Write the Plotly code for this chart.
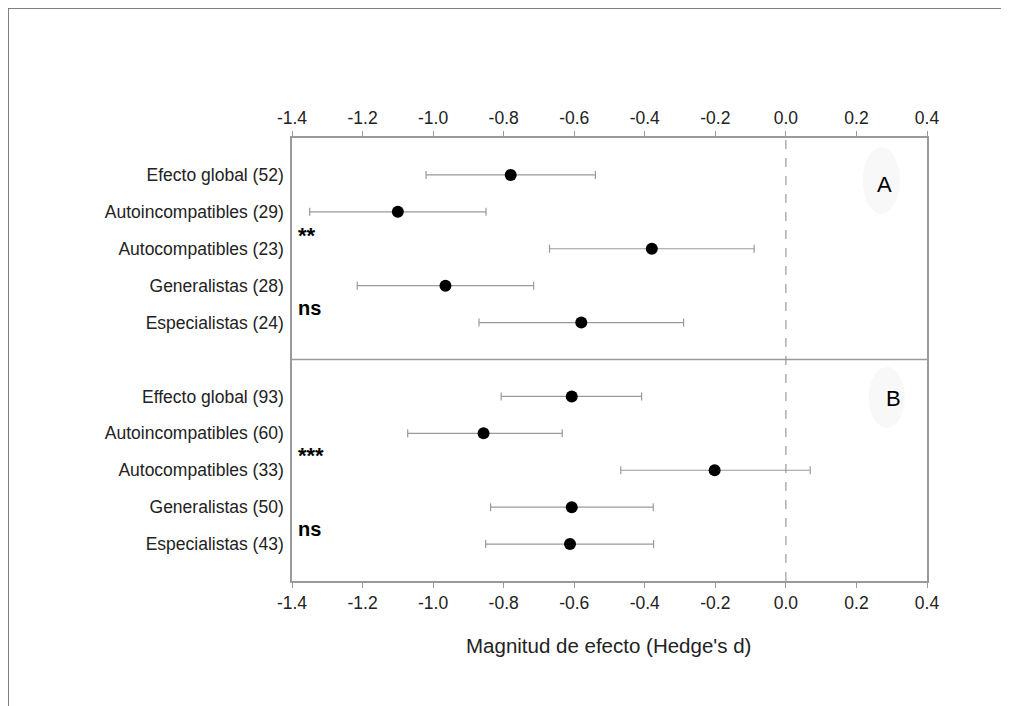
import plotly.graph_objects as go

# ---- data ----
labels_A = ["Efecto global (52)", "Autoincompatibles (29)", "Autocompatibles (23)",
            "Generalistas (28)", "Especialistas (24)"]
mean_A = [-0.78, -1.10, -0.38, -0.965, -0.58]
lo_A = [-1.02, -1.35, -0.67, -1.215, -0.87]
hi_A = [-0.54, -0.85, -0.09, -0.715, -0.29]

labels_B = ["Effecto global (93)", "Autoincompatibles (60)", "Autocompatibles (33)",
            "Generalistas (50)", "Especialistas (43)"]
mean_B = [-0.607, -0.857, -0.202, -0.607, -0.612]
lo_B = [-0.807, -1.072, -0.468, -0.837, -0.851]
hi_B = [-0.409, -0.634, 0.069, -0.376, -0.375]

pos_A = [1, 2, 3, 4, 5]
pos_B = [7, 8, 9, 10, 11]

xticks = [-1.4, -1.2, -1.0, -0.8, -0.6, -0.4, -0.2, 0.0, 0.2, 0.4]
xticktext = ["-1.4", "-1.2", "-1.0", "-0.8", "-0.6", "-0.4", "-0.2", "0.0", "0.2", "0.4"]

sig_text = ["**", "ns", "***", "ns"]
sig_pos = [2.65, 4.6, 8.6, 10.6]

FONT = "Liberation Sans, Arial, sans-serif"
GREY = "#9a9a9a"

fig = go.Figure()

for pos, m, lo, hi in [(pos_A, mean_A, lo_A, hi_A), (pos_B, mean_B, lo_B, hi_B)]:
    fig.add_trace(go.Scatter(
        x=m, y=pos, mode="markers",
        marker=dict(color="black", size=12),
        error_x=dict(type="data", symmetric=False,
                     array=[h - v for h, v in zip(hi, m)],
                     arrayminus=[v - l for v, l in zip(m, lo)],
                     color=GREY, thickness=1.2, width=4),
        showlegend=False, hoverinfo="x+y",
    ))

# invisible trace for top axis
fig.add_trace(go.Scatter(x=[-1.4, 0.4], y=[0, 0], xaxis="x2", mode="markers",
                         marker=dict(opacity=0), showlegend=False, hoverinfo="skip"))

axis_common = dict(range=[-1.4, 0.4], tickvals=xticks, ticktext=xticktext,
                   ticks="outside", ticklen=5, tickcolor=GREY, showline=True,
                   linecolor=GREY, linewidth=1.5, showgrid=False, zeroline=False,
                   tickfont=dict(family=FONT, size=17.5, color="#222"))

fig.update_layout(
    width=1009, height=706,
    margin=dict(l=284, r=90, t=130, b=133),
    paper_bgcolor="white", plot_bgcolor="white",
    xaxis=dict(**axis_common, side="bottom", mirror=True),
    xaxis2=dict(**axis_common, side="top", overlaying="x", matches="x"),
    yaxis=dict(range=[12, 0], tickvals=pos_A + pos_B, ticktext=labels_A + labels_B,
               ticks="", showline=True, mirror=True, linecolor=GREY, linewidth=1.5,
               showgrid=False, zeroline=False, ticklabelstandoff=3,
               tickfont=dict(family=FONT, size=17.5, color="#222")),
    font=dict(family=FONT),
)

shapes = [
    # zero reference
    dict(type="line", xref="x", yref="paper", x0=0, x1=0, y0=0, y1=1,
         line=dict(color=GREY, width=1.2, dash="dash"), layer="below"),
    # panel divider
    dict(type="line", xref="paper", yref="y", x0=0, x1=1, y0=6, y1=6,
         line=dict(color=GREY, width=1.5)),
    # faint ellipses behind panel letters
    dict(type="circle", xref="x", yref="y", x0=0.218, x1=0.323, y0=0.25, y1=2.05,
         fillcolor="#f8f8f8", line=dict(width=0), layer="below"),
    dict(type="circle", xref="x", yref="y", x0=0.235, x1=0.337, y0=6.2, y1=7.85,
         fillcolor="#f8f8f8", line=dict(width=0), layer="below"),
    # outer frame (top and left)
    dict(type="line", xref="paper", yref="paper", x0=-0.447, x1=1.2, y0=1.293, y1=1.293,
         line=dict(color="#555", width=1.2)),
    dict(type="line", xref="paper", yref="paper", x0=-0.447, x1=-0.447, y0=1.293, y1=-0.31,
         line=dict(color="#555", width=1.2)),
]
fig.update_layout(shapes=shapes)

annotations = []
for t, p in zip(sig_text, sig_pos):
    annotations.append(dict(x=-1.4, y=p, xref="x", yref="y", text=f"<b>{t}</b>",
                            showarrow=False, xanchor="left", yanchor="middle", xshift=4,
                            font=dict(family=FONT, size=20 if t == "ns" else 22, color="black")))
annotations.append(dict(x=0.28, y=1.25, xref="x", yref="y", text="A", showarrow=False,
                        font=dict(family=FONT, size=22, color="black")))
annotations.append(dict(x=0.305, y=7.05, xref="x", yref="y", text="B", showarrow=False,
                        font=dict(family=FONT, size=22, color="black")))
annotations.append(dict(x=0.498, y=-0.176, xref="paper", yref="paper",
                        text="Magnitud de efecto (Hedge's d)", showarrow=False,
                        font=dict(family=FONT, size=20.5, color="#222")))
fig.update_layout(annotations=annotations)

fig.write_html("out.html")
